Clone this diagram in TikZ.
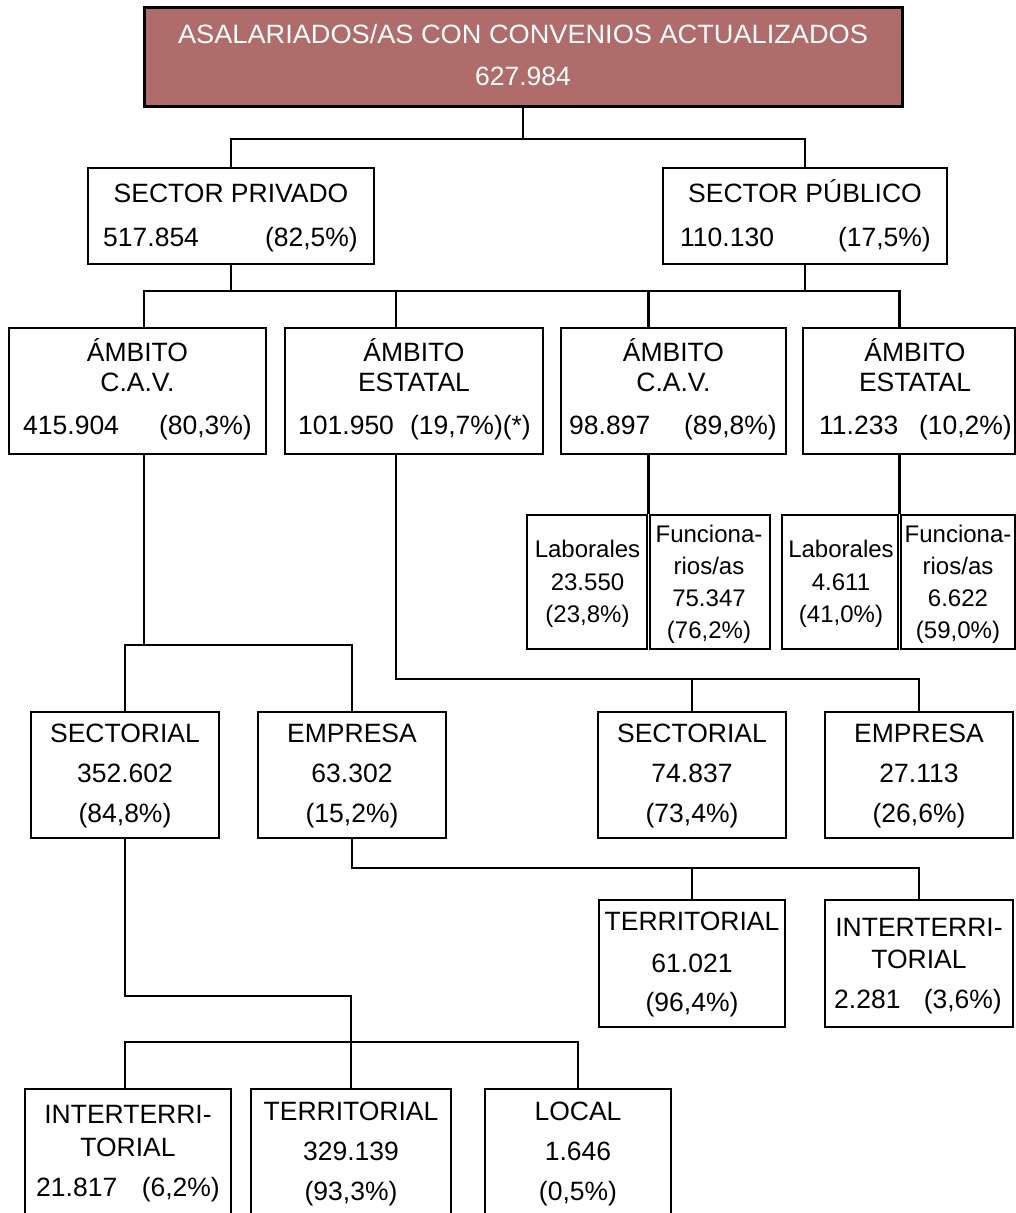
\documentclass[tikz,border=0pt]{standalone}
\usepackage{fontspec}
\setmainfont{Liberation Sans}
\usetikzlibrary{calc}
\definecolor{hdr}{RGB}{176,107,107}
\newcommand\mybox[6][]{\node[box,#1, minimum width=#5pt-#3pt, minimum height=#6pt-#4pt] (#2) at ({(#3+#5)/2},{(#4+#6)/2}) {};}
\begin{document}
\begin{tikzpicture}[x=1pt,y=-1pt,
  box/.style={draw=black, line width=2.4pt, rectangle, inner sep=0pt},
  t/.style={anchor=base, inner sep=0pt, font=\fontsize{26.5}{31}\selectfont},
  tl/.style={t, anchor=base west},
  tr/.style={t, anchor=base east},
  ts/.style={t, font=\fontsize{24}{29}\selectfont},
  wire/.style={line width=2.4pt}
]
\useasboundingbox (0,0) rectangle (1016,1213);
\clip (0,0) rectangle (1016,1213);
\fill[white] (0,0) rectangle (1016,1213);

% boxes
\mybox[fill=hdr, line width=3pt]{top}{144}{7}{902}{106}
\mybox{priv}{88}{168}{374}{264}
\mybox{pub}{663}{168}{947}{264}
\mybox{cav1}{9}{328}{266}{454}
\mybox{est1}{285}{328}{543}{454}
\mybox{cav2}{561}{328}{786}{454}
\mybox{est2}{803}{328}{1015}{454}
\mybox{lab1}{527}{515}{647}{649}
\mybox{fun1}{650}{515}{770}{649}
\mybox{lab2}{782}{515}{898}{649}
\mybox{fun2}{901}{515}{1015}{649}
\mybox{sect1}{31}{712}{219}{838}
\mybox{emp1}{258}{712}{446}{838}
\mybox{sect2}{598}{712}{786}{838}
\mybox{emp2}{825}{712}{1013}{838}
\mybox{terr2}{599}{900}{785}{1027}
\mybox{inter2}{825}{900}{1013}{1027}
\mybox{inter3}{25}{1089}{231}{1240}
\mybox{terr3}{251}{1089}{451}{1240}
\mybox{local3}{485}{1089}{671}{1240}

% helper coordinates
\coordinate (b1) at (0,139);
\coordinate (b2) at (0,291);
\coordinate (b3) at (0,645);
\coordinate (b4) at (0,679);
\coordinate (b5) at (0,868);
\coordinate (b6) at (0,996);
\coordinate (b7) at (0,1042);
\coordinate (x1) at (144,0);
\coordinate (x2) at (396,0);
\coordinate (x3) at (648.5,0);
\coordinate (x4) at (899.5,0);
\coordinate (x5) at (125,0);

% connectors
\draw[wire] (top.south) -- (top.south |- b1);
\draw[wire] (priv.north) -- (priv.north |- b1) -- (pub.north |- b1) -- (pub.north);
\draw[wire] (priv.south) -- (priv.south |- b2);
\draw[wire] (pub.south) -- (pub.south |- b2);
\draw[wire] (x1 |- cav1.north) -- (x1 |- b2) -- (x4 |- b2) -- (x4 |- est2.north);
\draw[wire] (x2 |- b2) -- (x2 |- est1.north);
\draw[wire] (x3 |- b2) -- (x3 |- cav2.north);
\draw[wire] (x1 |- cav1.south) -- (x1 |- b3);
\draw[wire] (sect1.north) -- (sect1.north |- b3) -- (emp1.north |- b3) -- (emp1.north);
\draw[wire] (x2 |- est1.south) -- (x2 |- b4) -- (emp2.north |- b4) -- (emp2.north);
\draw[wire] (sect2.north |- b4) -- (sect2.north);
\draw[wire] (x3 |- cav2.south) -- (x3 |- lab1.north);
\draw[wire] (x4 |- est2.south) -- (x4 |- lab2.north);
\draw[wire] (emp1.south) -- (emp1.south |- b5) -- (inter2.north |- b5) -- (inter2.north);
\draw[wire] (terr2.north |- b5) -- (terr2.north);
\draw[wire] (sect1.south) -- (sect1.south |- b6) -- (terr3.north |- b6) -- (terr3.north);
\draw[wire] (x5 |- inter3.north) -- (x5 |- b7) -- (local3.north |- b7) -- (local3.north);

% texts
\node[t, text=white] (topA) at (523,43) {\scalebox{1.025}[1]{ASALARIADOS/AS CON CONVENIOS ACTUALIZADOS}};
\node[t, text=white] (topB) at (523,85) {627.984};

\node[t] (privA) at (231,202) {SECTOR PRIVADO};
\node[tl] (privB) at (103,246) {517.854};
\node[tr] (privC) at (358,246) {(82,5\%)};
\node[t] (pubA) at (805,202) {SECTOR PÚBLICO};
\node[tl] (pubB) at (680,246) {110.130};
\node[tr] (pubC) at (931,246) {(17,5\%)};

\node[t] (cav1A) at (137.5,361) {ÁMBITO};
\node[t] (cav1B) at (137.5,391) {C.A.V.};
\node[tl] (cav1C) at (23,434) {415.904};
\node[tr] (cav1D) at (252,434) {(80,3\%)};
\node[t] (est1A) at (414,361) {ÁMBITO};
\node[t] (est1B) at (414,391) {ESTATAL};
\node[tl] (est1C) at (298,434) {101.950};
\node[tr] (est1D) at (531,434) {(19,7\%)(*)};
\node[t] (cav2A) at (673.5,361) {ÁMBITO};
\node[t] (cav2B) at (673.5,391) {C.A.V.};
\node[tl] (cav2C) at (569,434) {98.897};
\node[tr] (cav2D) at (777,434) {(89,8\%)};
\node[t] (est2A) at (915,361) {ÁMBITO};
\node[t] (est2B) at (915,391) {ESTATAL};
\node[tl] (est2C) at (819,434) {11.233};
\node[tr] (est2D) at (1012,434) {(10,2\%)};

\node[ts] (lab1A) at (587.5,557) {Laborales};
\node[ts] (lab1B) at (587.5,590) {23.550};
\node[ts] (lab1C) at (587.5,622) {(23,8\%)};
\node[ts] (fun1A) at (709,542) {Funciona-};
\node[ts] (fun1B) at (709,574) {rios/as};
\node[ts] (fun1C) at (709,606) {75.347};
\node[ts] (fun1D) at (709,638) {(76,2\%)};
\node[ts] (lab2A) at (841,557) {Laborales};
\node[ts] (lab2B) at (841,590) {4.611};
\node[ts] (lab2C) at (841,622) {(41,0\%)};
\node[ts] (fun2A) at (958,542) {Funciona-};
\node[ts] (fun2B) at (958,574) {rios/as};
\node[ts] (fun2C) at (958,606) {6.622};
\node[ts] (fun2D) at (958,638) {(59,0\%)};

\node[t] (sect1A) at (125,742) {SECTORIAL};
\node[t] (sect1B) at (125,782) {352.602};
\node[t] (sect1C) at (125,822) {(84,8\%)};
\node[t] (emp1A) at (352,742) {EMPRESA};
\node[t] (emp1B) at (352,782) {63.302};
\node[t] (emp1C) at (352,822) {(15,2\%)};
\node[t] (sect2A) at (692,742) {SECTORIAL};
\node[t] (sect2B) at (692,782) {74.837};
\node[t] (sect2C) at (692,822) {(73,4\%)};
\node[t] (emp2A) at (919,742) {EMPRESA};
\node[t] (emp2B) at (919,782) {27.113};
\node[t] (emp2C) at (919,822) {(26,6\%)};

\node[t] (terr2A) at (692,930) {TERRITORIAL};
\node[t] (terr2B) at (692,972) {61.021};
\node[t] (terr2C) at (692,1011) {(96,4\%)};
\node[t] (inter2A) at (919,936) {INTERTERRI-};
\node[t] (inter2B) at (919,968) {TORIAL};
\node[tl] (inter2C) at (834,1008) {2.281};
\node[tr] (inter2D) at (1002,1008) {(3,6\%)};

\node[t] (inter3A) at (128,1123) {INTERTERRI-};
\node[t] (inter3B) at (128,1156) {TORIAL};
\node[tl] (inter3C) at (36,1196) {21.817};
\node[tr] (inter3D) at (220,1196) {(6,2\%)};
\node[t] (terr3A) at (351,1120) {TERRITORIAL};
\node[t] (terr3B) at (351,1160) {329.139};
\node[t] (terr3C) at (351,1200) {(93,3\%)};
\node[t] (local3A) at (578,1120) {LOCAL};
\node[t] (local3B) at (578,1160) {1.646};
\node[t] (local3C) at (578,1200) {(0,5\%)};
\end{tikzpicture}
\end{document}
